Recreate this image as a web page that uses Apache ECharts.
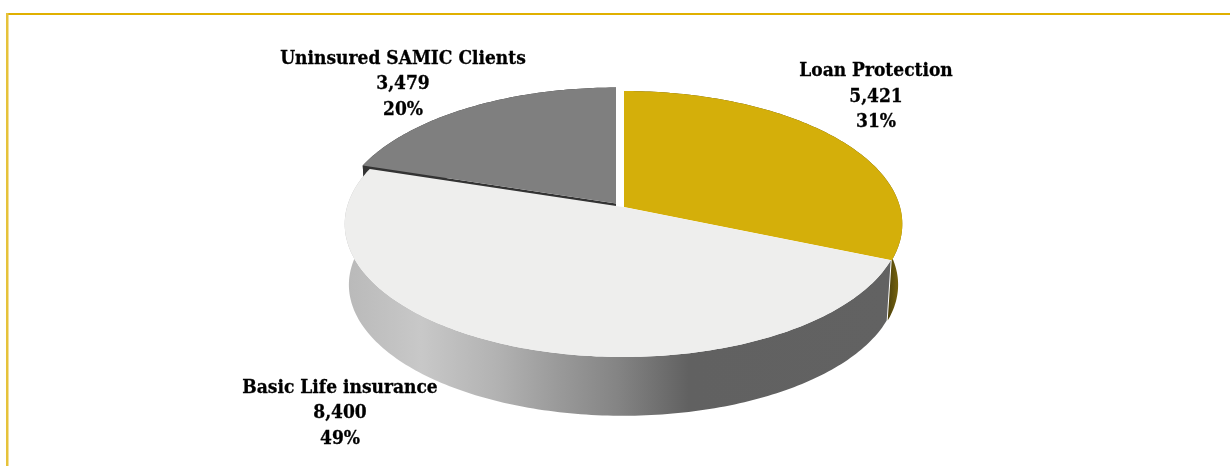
<!DOCTYPE html>
<html>
<head>
<meta charset="utf-8">
<title>Insurance coverage of SAMIC clients</title>
<style>
  html, body { margin: 0; padding: 0; background: #fff; }
  #chart { width: 1230px; height: 466px; }
</style>
<script src="https://cdn.jsdelivr.net/npm/echarts@6/dist/echarts.min.js"></script>
</head>
<body>
<div id="chart"></div>
<script>
// 数据：值
const categories = ['Loan Protection', 'Basic Life insurance', 'Uninsured SAMIC Clients']
const clientCounts = [5421, 8400, 3479]

// 样式和布局，和数据分开放
const radius = 276
const tilt = 130.8
const perspective = 0.128
const depth = 61
const rimShrink = 0.985
const sliceApex = [[624, 207], [623, 207], [616, 203.5]]
const labelAnchor = [[876, 97], [340, 413.5], [403, 84.5]]
const topColors = ['#D4AF0A', '#EEEEED', '#7F7F7F']
const sideColors = [
  new echarts.graphic.LinearGradient(0, 0, 1, 0, [
    { offset: 0, color: '#4f430c' },
    { offset: 0.95, color: '#4f430c' },
    { offset: 1, color: '#85700f' },
  ]),
  new echarts.graphic.LinearGradient(0, 0, 1, 0, [
    { offset: 0, color: '#b9b9b9' },
    { offset: 0.14, color: '#c8c8c8' },
    { offset: 0.28, color: '#b2b2b2' },
    { offset: 0.39, color: '#9a9a9a' },
    { offset: 0.5, color: '#848484' },
    { offset: 0.63, color: '#616161' },
    { offset: 1, color: '#626262' },
  ]),
  '#333333',
]
const labelFont = 'bold 19px "DejaVu Serif Condensed", "Liberation Serif", serif'

const total = clientCounts.reduce((sum, v) => sum + v, 0)

const sliceAngles = (index) => {
  const before = clientCounts.slice(0, index).reduce((sum, v) => sum + v, 0)
  return [before / total * 360, (before + clientCounts[index]) / total * 360]
}

// 圆盘上的角度 -> 屏幕坐标，近大远小
const project = (deg, apex, drop = 0, scale = 1) => {
  const rad = deg * Math.PI / 180
  const u = Math.sin(rad)
  const v = -Math.cos(rad)
  const w = 1 - perspective * v
  return [apex[0] + scale * radius * u / w, apex[1] + drop + scale * tilt * v / w]
}

const arcPoints = (from, to, apex, drop = 0, scale = 1) => {
  const points = []
  for (let deg = from; deg < to; deg += 1) points.push(project(deg, apex, drop, scale))
  points.push(project(to, apex, drop, scale))
  return points
}

const renderWall = (params, api) => {
  const index = api.value(0)
  const [from, to] = sliceAngles(index)
  const apex = sliceApex[index]
  const upper = arcPoints(from, to, apex)
  const lower = arcPoints(from, to, apex, depth, rimShrink).reverse()
  const outer = { type: 'polygon', shape: { points: upper.concat(lower) }, style: { fill: sideColors[index] } }
  // 第三块抬起来，露出一条径向侧壁
  const radial = {
    type: 'polygon',
    shape: { points: [apex, project(from, apex), project(from, apex, depth, rimShrink), [apex[0], apex[1] + depth]] },
    style: { fill: '#333333' },
  }
  return { type: 'group', children: index === 2 ? [outer, radial] : [outer] }
}

const renderTop = (params, api) => {
  const index = api.value(0)
  const [from, to] = sliceAngles(index)
  const apex = sliceApex[index]
  const value = clientCounts[index]
  return {
    type: 'group',
    children: [
      {
        type: 'polygon',
        shape: { points: [apex].concat(arcPoints(from, to, apex)) },
        style: { fill: topColors[index] },
      },
      {
        type: 'text',
        z2: 10,
        style: {
          x: labelAnchor[index][0],
          y: labelAnchor[index][1],
          text: `${categories[index]}\n${value.toLocaleString('en-US')}\n${Math.round(value / total * 100)}%`,
          font: labelFont,
          lineHeight: 25.5,
          fill: '#000000',
          stroke: '#000000',
          lineWidth: 0.3,
          align: 'center',
          verticalAlign: 'middle',
        },
      },
    ],
  }
}

const sliceIndexes = categories.map((_, i) => [i])

const chart = echarts.init(document.getElementById('chart'), null, { renderer: 'canvas' })
chart.setOption({
  animation: false,
  backgroundColor: '#ffffff',
  graphic: [
    { type: 'rect', silent: true, shape: { x: 7, y: 13, width: 1223, height: 2 }, style: { fill: '#E0B000' } },
    { type: 'rect', silent: true, shape: { x: 6, y: 13, width: 2.5, height: 453 }, style: { fill: '#E6C23A' } },
  ],
  series: [
    { type: 'custom', coordinateSystem: 'none', silent: true, z: 1, data: sliceIndexes, renderItem: renderWall },
    { type: 'custom', coordinateSystem: 'none', silent: true, z: 2, data: sliceIndexes, renderItem: renderTop },
  ],
})
</script>
</body>
</html>
